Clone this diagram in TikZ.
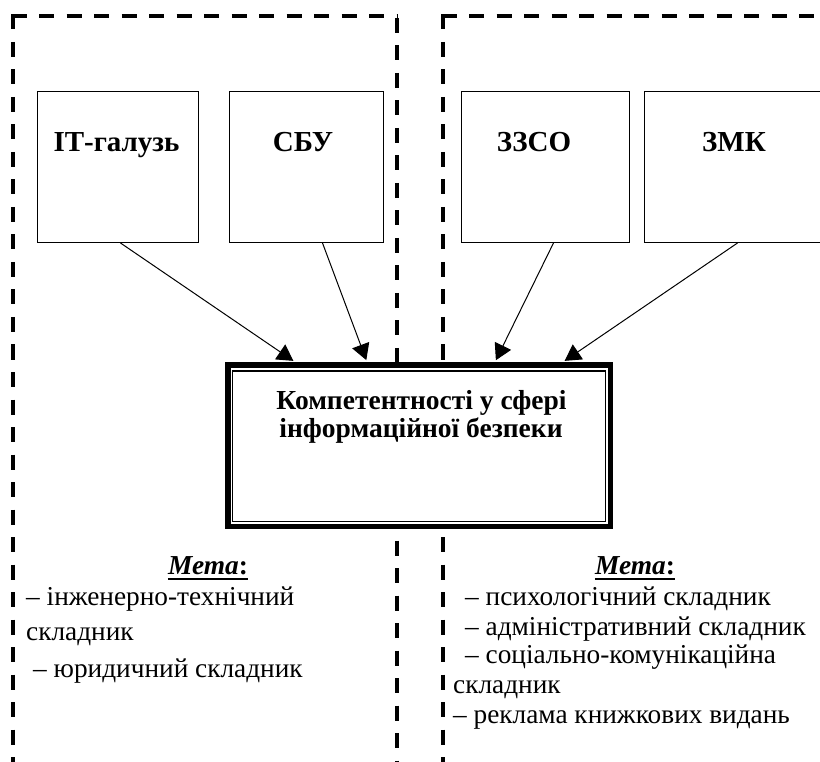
\documentclass[tikz,border=0pt]{standalone}
\usepackage{fontspec}
\setmainfont{Liberation Serif}
\usetikzlibrary{arrows.meta}
\begin{document}
\begin{tikzpicture}[x=1pt,y=-1pt,
  dashln/.style={line width=3.3pt,dash pattern=on 15pt off 12.5pt},
  srcbox/.style={draw,line width=1pt,fill=white,minimum height=151pt,inner sep=0pt,anchor=north west},
  srclbl/.style={anchor=base,inner sep=0pt,font=\bfseries\fontsize{29}{33}\selectfont},
  arr/.style={line width=1pt,-{Triangle[length=16pt,width=18pt]},shorten >=2pt},
  cenlbl/.style={anchor=base,inner sep=0pt,font=\bfseries\fontsize{27.5}{31}\selectfont},
  lst/.style={anchor=base west,inner sep=0pt,font=\fontsize{27.3}{31}\selectfont},
  metalbl/.style={anchor=base,inner sep=0pt,font=\bfseries\fontsize{27.4}{31}\selectfont}]
\useasboundingbox (0,0) rectangle (820,762);
\clip (0,0) rectangle (820,762);
% dashed frames
\draw[dashln] (11.5,16) -- (397,16);
\draw[dashln] (13,14.5) -- (13,780);
\draw[dashln] (397,18) -- (397,780);
\draw[dashln] (441.5,16) -- (830,16);
\draw[dashln] (443,14.5) -- (443,780);
% source boxes
\node[srcbox,minimum width=161pt] (it) at (37,91) {};
\node[srcbox,minimum width=154pt] (sbu) at (229,91) {};
\node[srcbox,minimum width=168pt] (zzso) at (461,91) {};
\node[srcbox,minimum width=196pt] (zmk) at (644,91) {};
\node[srclbl] (itl) at (116.5,152) {ІТ-галузь};
\node[srclbl] (sbul) at (303,152) {СБУ};
\node[srclbl] (zzsol) at (534,152) {ЗЗСО};
\node[srclbl] (zmkl) at (734,152) {ЗМК};
% central box
\node[draw,line width=5.5pt,fill=white,minimum width=382.5pt,minimum height=161.5pt,inner sep=0pt] (cen) at (419,445.5) {};
\node[draw,line width=1.3pt,minimum width=372.6pt,minimum height=150.3pt,inner sep=0pt] (ceninner) at (419,446) {};
\node[cenlbl] (ct1) at (421.5,409) {Компетентності у сфері};
\node[cenlbl] (ct2) at (421,437) {інформаційної безпеки};
% arrows
\draw[arr] ([xshift=2.5pt]it.south) -- ([xshift=-124pt]cen.north);
\draw[arr] ([xshift=16pt]sbu.south) -- ([xshift=-52pt]cen.north);
\draw[arr] ([xshift=8pt]zzso.south) -- ([xshift=76pt]cen.north);
\draw[arr] ([xshift=-5pt]zmk.south) -- ([xshift=144pt]cen.north);
% left goals
\node[metalbl] (ml) at (208,574) {\textit{Мета}:};
\draw[line width=1.5pt] ([yshift=-5pt]ml.base west) -- ([yshift=-5pt]ml.base east);
\node[lst] (la) at (26,605) {– інженерно-технічний};
\node[lst] (lb) at (26,640) {складник};
\node[lst] (lc) at (33,677) {– юридичний складник};
% right goals
\node[metalbl] (mr) at (635,574) {\textit{Мета}:};
\draw[line width=1.5pt] ([yshift=-5pt]mr.base west) -- ([yshift=-5pt]mr.base east);
\node[lst] (ra) at (465,605) {– психологічний складник};
\node[lst] (rb) at (465,635) {– адміністративний складник};
\node[lst] (rc) at (465,663) {– соціально-комунікаційна};
\node[lst] (rd) at (453,693) {складник};
\node[lst] (re) at (453,723) {– реклама книжкових видань};
\end{tikzpicture}
\end{document}
